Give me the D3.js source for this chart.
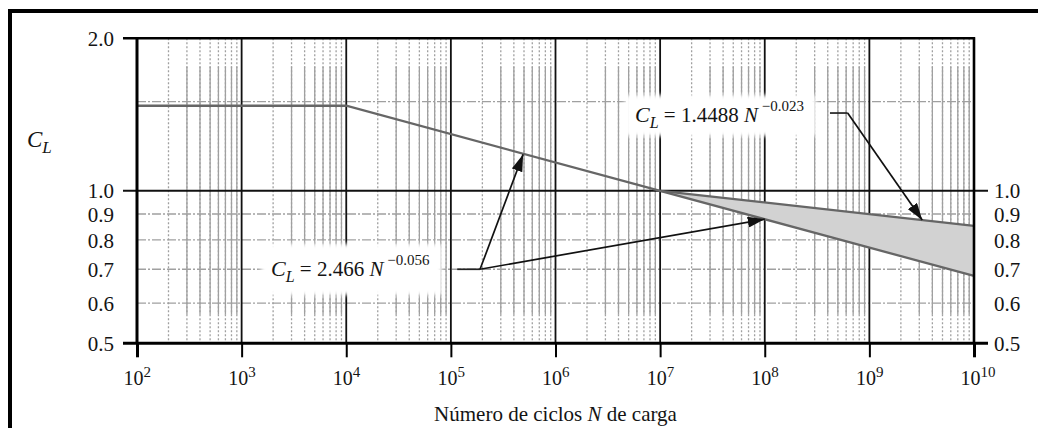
<!DOCTYPE html>
<html>
<head>
<meta charset="utf-8">
<script src="https://cdn.jsdelivr.net/npm/d3@7"></script>
<style>
  body { margin: 0; background: #fff; }
  svg { display: block; }
  text { font-family: "Liberation Serif", "Times New Roman", serif; fill: #141414; }
</style>
</head>
<body>
<svg id="chart" width="1038" height="428"></svg>
<script>
// ---- data ----
const decadeExps = [2, 3, 4, 5, 6, 7, 8, 9, 10];
const minorMultipliers = [2, 3, 4, 5, 6, 7, 8, 9];
const leftTickValues = [2.0, 1.0, 0.9, 0.8, 0.7, 0.6, 0.5];
const rightTickValues = [1.0, 0.9, 0.8, 0.7, 0.6, 0.5];
const minorCL = [1.5, 0.9, 0.8, 0.7, 0.6];

// lower bound: C_L = 2.466 N^-0.056 (constant below 10^4 cycles)
const lowerN = [1e2, 1e4, 1e7, 1e10];
const lowerCL = [1.472, 1.472, 1.0, 0.679];
// upper bound: C_L = 1.4488 N^-0.023
const upperN = [1e7, 1e10];
const upperCL = [1.0, 0.853];

// callouts: text anchor, leader start/elbow and arrow tips (N, C_L)
const calloutCoef = ["1.4488", "2.466"];
const calloutExp = ["\u22120.023", "\u22120.056"];
const calloutText = [[5.75e6, 1.367], [1.91e3, 0.679]];
const calloutLeader = [[[4.2e8, 1.424], [6.2e8, 1.424]], [[1.15e5, 0.70], [1.9e5, 0.70]]];
const calloutTips = [[[3.2e9, 0.876]], [[4.9e5, 1.18], [1e8, 0.879]]];

// ---- layout ----
const svg = d3.select("#chart");
const x = d3.scaleLog().domain([1e2, 1e10]).range([137, 974]);
const y = d3.scaleLog().domain([0.5, 2.0]).range([343.3, 38.3]);
const [x0, x1] = x.range();
const [yb, yt] = y.range();
const gridGray = "#a0a0a0";

const defs = svg.append("defs");
defs.append("marker")
  .attr("id", "arrow").attr("viewBox", "0 0 17 11")
  .attr("refX", 17).attr("refY", 5.5)
  .attr("markerWidth", 17).attr("markerHeight", 11)
  .attr("markerUnits", "userSpaceOnUse").attr("orient", "auto")
  .append("path").attr("d", "M0,0 L17,5.5 L0,11 Z").attr("fill", "#111");
defs.append("filter").attr("id", "soft").attr("x", "-10%").attr("y", "-30%").attr("width", "120%").attr("height", "160%")
  .append("feGaussianBlur").attr("stdDeviation", 2);

// outer frame
svg.append("line").attr("x1", 10).attr("x2", 10).attr("y1", 9).attr("y2", 430)
  .attr("stroke", "#000").attr("stroke-width", 4);
svg.append("line").attr("x1", 8).attr("x2", 1040).attr("y1", 11).attr("y2", 11)
  .attr("stroke", "#000").attr("stroke-width", 4);

const grid = svg.append("g");

// minor vertical grid lines
const minorN = [];
decadeExps.slice(0, -1).forEach(k => minorMultipliers.forEach(m => minorN.push({ n: m * Math.pow(10, k), m })));
grid.selectAll(".vdot").data(minorN).join("line")
  .attr("x1", d => x(d.n)).attr("x2", d => x(d.n))
  .attr("y1", yt).attr("y2", yb)
  .attr("stroke", gridGray).attr("stroke-width", 1.3).attr("stroke-dasharray", "2,2");
grid.selectAll(".vsolid").data(minorN.filter(d => d.m > 2)).join("line")
  .attr("x1", d => x(d.n)).attr("x2", d => x(d.n))
  .attr("y1", y(1.76)).attr("y2", y(0.57))
  .attr("stroke", gridGray).attr("stroke-width", 1.3);

// minor horizontal grid lines
grid.selectAll(".hminor").data(minorCL).join("line")
  .attr("x1", x0).attr("x2", x1)
  .attr("y1", d => y(d)).attr("y2", d => y(d))
  .attr("stroke", gridGray).attr("stroke-width", 1.3).attr("stroke-dasharray", "9,2,2,2");

// decade lines
grid.selectAll(".vmajor").data(decadeExps.slice(1, -1)).join("line")
  .attr("x1", d => x(Math.pow(10, d))).attr("x2", d => x(Math.pow(10, d)))
  .attr("y1", yt).attr("y2", yb)
  .attr("stroke", "#111").attr("stroke-width", 1.8);

// 1.0 line with outward ticks on both sides
grid.append("line").attr("x1", x0 - 14).attr("x2", x1 + 14)
  .attr("y1", y(1.0)).attr("y2", y(1.0))
  .attr("stroke", "#111").attr("stroke-width", 2);

// white backgrounds behind callout text
const calloutG = svg.append("g");

// shaded band between the two bounds
const band = upperN.map((n, i) => ({ n, hi: upperCL[i], lo: lowerCL[lowerN.indexOf(n)] }));
svg.append("path").datum(band)
  .attr("d", d3.area().x(d => x(d.n)).y0(d => y(d.lo)).y1(d => y(d.hi)))
  .attr("fill", "#d2d2d2");

const line = d3.line().x(d => x(d[0])).y(d => y(d[1]));
svg.append("path").datum(lowerN.map((n, i) => [n, lowerCL[i]]))
  .attr("d", line).attr("fill", "none").attr("stroke", "#666").attr("stroke-width", 2.3);
svg.append("path").datum(upperN.map((n, i) => [n, upperCL[i]]))
  .attr("d", line).attr("fill", "none").attr("stroke", "#666").attr("stroke-width", 2.3);

// axes
const xAxis = svg.append("g").attr("transform", `translate(0,${yb})`)
  .call(d3.axisBottom(x).tickValues(decadeExps.map(k => Math.pow(10, k))).tickSize(14).tickFormat(""));
xAxis.select(".domain").remove();
xAxis.selectAll(".tick line").attr("stroke", "#000").attr("stroke-width", (d, i, a) => (i === 0 || i === a.length - 1) ? 3 : 2);
xAxis.selectAll(".tick").append("text")
  .attr("x", -14).attr("y", 42).attr("text-anchor", "start")
  .style("font-size", "20px").attr("fill", "#141414")
  .each(function (d) {
    const t = d3.select(this);
    t.append("tspan").text("10");
    t.append("tspan").attr("dy", -8).style("font-size", "15px").text(Math.round(Math.log10(d)));
  });

const yAxisL = svg.append("g").attr("transform", `translate(${x0},0)`)
  .call(d3.axisLeft(y).tickValues(leftTickValues).tickSize(0).tickPadding(23).tickFormat(d3.format(".1f")));
yAxisL.select(".domain").remove();
yAxisL.selectAll(".tick text").style("font-size", "21px").attr("dy", "0.34em").attr("fill", "#141414");

const yAxisR = svg.append("g").attr("transform", `translate(${x1},0)`)
  .call(d3.axisRight(y).tickValues(rightTickValues).tickSize(0).tickPadding(20).tickFormat(d3.format(".1f")));
yAxisR.select(".domain").remove();
yAxisR.selectAll(".tick text").style("font-size", "21px").attr("dy", "0.34em").attr("fill", "#141414");

// plot border
svg.append("line").attr("x1", x0 - 14).attr("x2", x1 + 1).attr("y1", yt).attr("y2", yt)
  .attr("stroke", "#000").attr("stroke-width", 2.4);
svg.append("line").attr("x1", x0 - 14).attr("x2", x1 + 14).attr("y1", yb).attr("y2", yb)
  .attr("stroke", "#000").attr("stroke-width", 3);
svg.append("line").attr("x1", x0).attr("x2", x0).attr("y1", yt - 1).attr("y2", yb)
  .attr("stroke", "#000").attr("stroke-width", 3);
svg.append("line").attr("x1", x1).attr("x2", x1).attr("y1", yt - 1).attr("y2", yb)
  .attr("stroke", "#000").attr("stroke-width", 2.6);

// callouts
calloutCoef.forEach((coef, i) => {
  const [tn, tc] = calloutText[i];
  const tx = x(tn), ty = y(tc);
  const bg = calloutG.append("rect").attr("fill", "#fff").attr("filter", "url(#soft)");
  const t = calloutG.append("text").attr("x", tx).attr("y", ty).style("font-size", "21px");
  t.append("tspan").style("font-style", "italic").style("font-size", "22px").text("C");
  t.append("tspan").style("font-style", "italic").style("font-size", "16px").attr("dy", 6).text("L");
  t.append("tspan").attr("dy", -6).text(" = " + coef + " ");
  t.append("tspan").style("font-style", "italic").text("N");
  t.append("tspan").attr("dy", -11).style("font-size", "15px").text(" " + calloutExp[i]);
  const bb = t.node().getBBox();
  const padY = i === 1 ? 8 : 3;
  bg.attr("x", bb.x - 10).attr("y", bb.y - padY).attr("width", bb.width + 22).attr("height", bb.height + 2 * padY + 2);

  const [s, e] = calloutLeader[i];
  svg.append("path").datum([s, e]).attr("d", line)
    .attr("fill", "none").attr("stroke", "#222").attr("stroke-width", 1.7);
  calloutTips[i].forEach(tip => {
    svg.append("path").datum([e, tip]).attr("d", line)
      .attr("fill", "none").attr("stroke", "#111").attr("stroke-width", 1.7)
      .attr("marker-end", "url(#arrow)");
  });
});

// axis titles
const yt1 = svg.append("text").attr("x", 27).attr("y", 147).style("font-size", "23px");
yt1.append("tspan").style("font-style", "italic").text("C");
yt1.append("tspan").style("font-style", "italic").style("font-size", "17px").attr("dy", 6).text("L");

const xt = svg.append("text").attr("x", (x0 + x1) / 2).attr("y", 421)
  .attr("text-anchor", "middle").style("font-size", "21px");
xt.append("tspan").text("Número de ciclos ");
xt.append("tspan").style("font-style", "italic").text("N");
xt.append("tspan").text(" de carga");
</script>
</body>
</html>
